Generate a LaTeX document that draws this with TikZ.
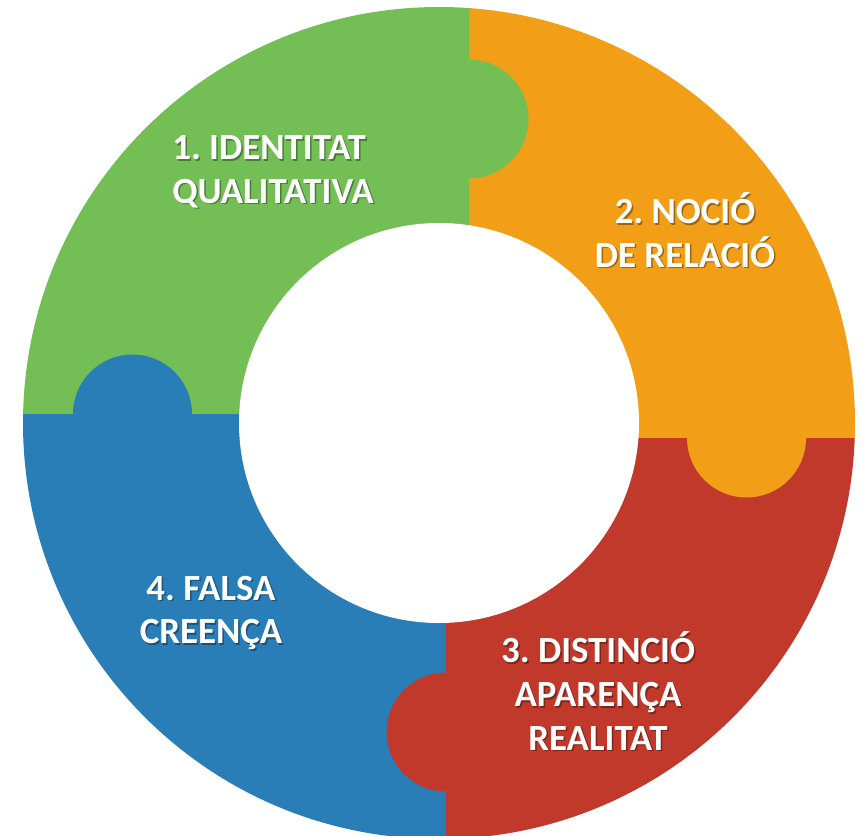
\documentclass[tikz,border=0pt]{standalone}
\usepackage{fontspec}
\setmainfont{Carlito}
\frenchspacing
\definecolor{pgreen}{RGB}{115,191,85}
\definecolor{porange}{RGB}{242,158,22}
\definecolor{pred}{RGB}{192,57,43}
\definecolor{pblue}{RGB}{41,126,184}

\begin{document}
\begin{tikzpicture}[x=0.02cm,y=-0.02cm,
    txt/.style={text=white,font=\bfseries\fontsize{21}{24.8}\selectfont,inner sep=0pt},
    shd/.style={txt,text=black,text opacity=0.35}]
    \useasboundingbox (0,0) rectangle (864,835);
    \coordinate (o) at (439,423);
    % tab centres on the seams
    \coordinate (t1) at (469,119);
    \coordinate (t2) at (746.5,438);
    \coordinate (t3) at (446,732);
    \coordinate (t4) at (132.5,414);
    \begin{scope}
      \clip (o) circle[radius=416];
      \fill[pgreen] (0,0) rectangle (469,414);
      \fill[porange] (469,0) rectangle (864,438);
      \fill[pred] (446,438) rectangle (864,870);
      \fill[pblue] (0,414) rectangle (446,870);
      \foreach \x/\c in {1/pgreen,2/porange,3/pred,4/pblue}
        \fill[\c] (t\x) circle[radius=59.5];
    \end{scope}
    \fill[white] (o) circle[radius=200];
    \foreach \x/\p/\a/\t in {1/{273,172}/left/{1. IDENTITAT\\QUALITATIVA},
        2/{685,230}/center/{2. NOCIÓ\\DE RELACIÓ},
        3/{598,691}/center/{3. DISTINCIÓ\\APARENÇA\\REALITAT},
        4/{211,613}/center/{4. FALSA\\CREENÇA}}{
      \node[shd,align=\a] (s\x) at ([shift={(1.5,1.5)}]\p) {\t};
      \node[txt,align=\a] (l\x) at (\p) {\t};
    }
\end{tikzpicture}
\end{document}
